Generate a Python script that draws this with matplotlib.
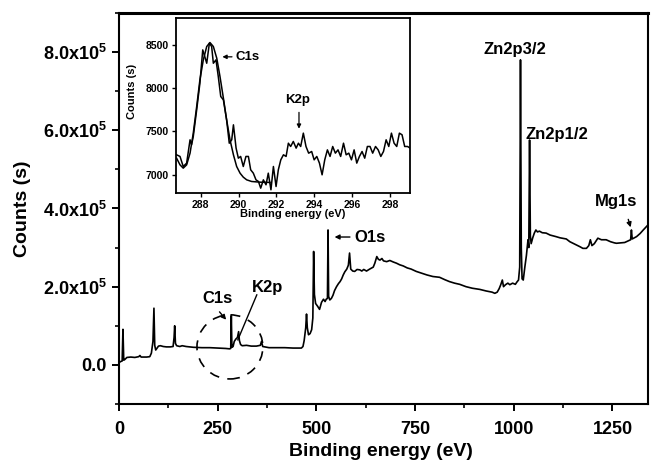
import matplotlib

matplotlib.use("Agg")
import matplotlib.pyplot as plt
from matplotlib.patches import Ellipse
from matplotlib.ticker import MultipleLocator, FixedLocator

# fonts: Arial-like bold everywhere
plt.rcParams["font.family"] = ["Liberation Sans", "DejaVu Sans"]
plt.rcParams["font.weight"] = "bold"
plt.rcParams["mathtext.fontset"] = "custom"
plt.rcParams["mathtext.rm"] = "Liberation Sans:bold"
plt.rcParams["mathtext.bf"] = "Liberation Sans:bold"

# survey spectrum, binding energy (eV) and counts (x1e5)
survey_energy = [
    0, 3, 8, 10, 12, 15, 20, 30, 40, 50, 53, 56, 70, 78, 82, 86, 88.5, 90.5, 93, 97,
    100, 105, 112, 120, 130, 137, 139.5, 141, 143, 146, 154, 160, 170, 188, 210, 230,
    250, 270, 280, 283, 284.5, 286, 289, 292, 296, 300, 303, 305, 308, 312, 323, 335,
    348, 358, 361, 364, 380, 400, 420, 441, 462, 466, 469, 473, 475, 477, 480, 484,
    488, 491, 493, 495, 498, 503, 508, 513, 518, 522, 525, 528, 529.5, 531, 534, 538,
    542, 546, 551, 556, 560, 564, 568, 572, 577, 581, 584, 587, 592, 597, 603, 610,
    615, 620, 627, 635, 644, 648, 653, 657, 661, 666, 670, 678, 686, 695, 703, 711,
    720, 730, 740, 753, 765, 780, 795, 812, 825, 837, 850, 863, 879, 895, 914, 930,
    945, 952, 958, 963, 967, 971, 974, 979, 985, 990, 997, 1004, 1008, 1012, 1015,
    1017, 1019, 1021, 1024, 1028, 1032, 1036, 1038, 1040, 1042, 1044, 1048, 1052,
    1056, 1060, 1065, 1072, 1082, 1092, 1100, 1107, 1117, 1133, 1142, 1150, 1160,
    1168, 1175, 1184, 1190, 1194, 1198, 1204, 1213, 1222, 1234, 1245, 1255, 1260,
    1270, 1281, 1292, 1296, 1298, 1300, 1311, 1320, 1328, 1340,
]
survey_counts = [
    0.05, 0.08, 0.10, 0.91, 0.12, 0.14, 0.19, 0.20, 0.19, 0.21, 0.24, 0.20, 0.20, 0.21,
    0.30, 0.60, 1.45, 0.50, 0.38, 0.44, 0.48, 0.49, 0.47, 0.46, 0.46, 0.47, 0.70, 1.00,
    0.55, 0.49, 0.47, 0.49, 0.47, 0.45, 0.44, 0.44, 0.43, 0.42, 0.41, 0.42, 1.26, 0.45,
    0.47, 0.60, 0.66, 0.70, 0.85, 0.62, 0.52, 0.49, 0.50, 0.48, 0.48, 0.50, 0.60, 0.47,
    0.44, 0.44, 0.44, 0.43, 0.43, 0.47, 0.62, 0.95, 1.30, 0.95, 0.77, 0.80, 0.90, 1.20,
    2.90, 1.80, 1.57, 1.50, 1.42, 1.60, 1.68, 1.62, 1.68, 1.70, 3.45, 1.75, 1.66, 1.70,
    1.78, 1.90, 2.00, 2.08, 2.13, 2.20, 2.30, 2.38, 2.45, 2.55, 2.86, 2.45, 2.40, 2.39,
    2.44, 2.43, 2.40, 2.44, 2.40, 2.45, 2.50, 2.60, 2.77, 2.70, 2.68, 2.72, 2.66, 2.64,
    2.67, 2.63, 2.60, 2.56, 2.53, 2.48, 2.45, 2.39, 2.35, 2.30, 2.26, 2.24, 2.18, 2.13,
    2.09, 2.06, 2.00, 1.96, 1.93, 1.89, 1.86, 1.83, 1.86, 1.95, 2.05, 2.17, 2.00, 2.05,
    2.09, 2.05, 2.09, 2.06, 2.12, 2.17, 2.50, 7.80, 3.00, 2.20, 2.17, 2.50, 2.80, 3.20,
    3.00, 5.75, 3.30, 3.10, 3.25, 3.37, 3.45, 3.40, 3.42, 3.38, 3.37, 3.32, 3.30, 3.28,
    3.25, 3.22, 3.15, 3.11, 3.06, 3.02, 2.98, 2.98, 3.05, 3.20, 3.05, 3.10, 3.24, 3.20,
    3.20, 3.15, 3.12, 3.11, 3.12, 3.13, 3.18, 3.20, 3.45, 3.22, 3.28, 3.36, 3.45, 3.58,
]

# high resolution C1s / K2p region (inset): raw counts
hr_energy = [
    286.73, 286.91, 287.08, 287.26, 287.44, 287.52, 287.61, 287.79, 287.96, 288.11,
    288.19, 288.32, 288.46, 288.58, 288.67, 288.81, 288.93, 289.06, 289.20, 289.37,
    289.51, 289.64, 289.73, 289.87, 289.99, 290.11, 290.25, 290.39, 290.52, 290.64,
    290.78, 290.92, 291.05, 291.17, 291.31, 291.45, 291.57, 291.71, 291.84, 291.98,
    292.10, 292.23, 292.37, 292.51, 292.63, 292.75, 292.89, 293.04, 293.16, 293.28,
    293.42, 293.56, 293.70, 293.86, 293.99, 294.13, 294.27, 294.41, 294.55, 294.69,
    294.83, 294.97, 295.11, 295.25, 295.39, 295.54, 295.68, 295.82, 295.96, 296.10,
    296.24, 296.38, 296.52, 296.66, 296.80, 296.94, 297.08, 297.23, 297.37, 297.51,
    297.65, 297.79, 297.93, 298.07, 298.21, 298.35, 298.49, 298.63, 298.77, 298.92,
    299.06,
]
hr_counts = [
    7231, 7212, 7096, 7135, 7404, 7346, 7442, 7750, 8058, 8442,
    8385, 8288, 8519, 8481, 8288, 8327, 8135, 7904, 7865, 7635,
    7365, 7404, 7577, 7308, 7192, 7212, 7096, 7212, 7212, 7058,
    7019, 6942, 6923, 6846, 6942, 6885, 7019, 6827, 7096, 6865,
    7058, 7173, 7231, 7212, 7365, 7327, 7385, 7308, 7365, 7327,
    7481, 7327, 7250, 7269, 7173, 7212, 7135, 7000, 7173, 7288,
    7212, 7327, 7250, 7288, 7212, 7365, 7231, 7250, 7173, 7288,
    7135, 7212, 7269, 7192, 7327, 7327, 7250, 7327, 7288, 7212,
    7269, 7404, 7327, 7481, 7365, 7327, 7481, 7462, 7327, 7327,
    7308,
]

# fitted C1s envelope (inset)
fit_energy = [
    286.73, 286.91, 287.08, 287.26, 287.44, 287.61, 287.79, 287.96, 288.14, 288.32,
    288.49, 288.67, 288.85, 289.02, 289.20, 289.37, 289.55, 289.73, 289.90, 290.08,
    290.25, 290.43, 290.69, 291.13, 291.66,
]
fit_counts = [
    7192, 7115, 7077, 7115, 7250, 7481, 7788, 8096, 8327, 8481,
    8527, 8481, 8346, 8135, 7885, 7635, 7404, 7231, 7096, 7019,
    6973, 6942, 6923, 6915, 6912,
]

fig = plt.figure(figsize=(6.51, 4.68), dpi=100)
ax = fig.add_axes([0.1828, 0.1368, 0.8126, 0.8355])

ax.plot(survey_energy, [c * 1e5 for c in survey_counts], color="black", lw=1.2)

ax.set_xlim(0, 1340)
ax.set_ylim(-1e5, 9e5)
ax.xaxis.set_major_locator(MultipleLocator(250))
ax.xaxis.set_minor_locator(MultipleLocator(125))
ax.yaxis.set_major_locator(FixedLocator([0, 2e5, 4e5, 6e5, 8e5]))
ax.yaxis.set_minor_locator(MultipleLocator(1e5))
ax.set_yticklabels(["0.0", "2.0x10$^5$", "4.0x10$^5$", "6.0x10$^5$", "8.0x10$^5$"])
ax.tick_params(which="major", direction="out", length=5, width=1.4, labelsize=13, pad=4)
ax.tick_params(axis="x", which="major", pad=7)
ax.tick_params(which="minor", direction="out", length=3, width=1.2)
for side in ["left", "bottom", "right"]:
    ax.spines[side].set_linewidth(1.5)
ax.spines["top"].set_linewidth(2.2)

ax.set_xlabel("Binding energy (eV)", fontsize=14, fontweight="bold")
ax.set_ylabel("Counts (s)", fontsize=14, fontweight="bold")
ax.xaxis.set_label_coords(0.496, -0.10)
ax.yaxis.set_label_coords(-0.166, 0.5)

# peak labels on the survey
arrow_kw = dict(arrowstyle="-|>", color="black", lw=1.0, mutation_scale=7)
ax.text(1002, 8.06e5, "Zn2p3/2", fontsize=12, ha="center", va="center")
ax.text(1108, 5.88e5, "Zn2p1/2", fontsize=12, ha="center", va="center")
ax.text(1260, 4.17e5, "Mg1s", fontsize=12, ha="center", va="center")
ax.annotate("", xy=(1298, 3.45e5), xytext=(1288, 3.79e5), arrowprops=arrow_kw)
ax.text(635, 3.25e5, "O1s", fontsize=12, ha="center", va="center")
ax.annotate("", xy=(539, 3.27e5), xytext=(592, 3.27e5), arrowprops=arrow_kw)
ax.text(250, 1.71e5, "C1s", fontsize=12, ha="center", va="center")
ax.annotate("", xy=(276, 1.10e5), xytext=(250, 1.41e5), arrowprops=arrow_kw)
ax.text(377, 1.97e5, "K2p", fontsize=12, ha="center", va="center")
ax.plot([349, 301], [1.79e5, 0.64e5], color="black", lw=1.0)

# dashed circle around the C1s / K2p region
ax.add_patch(
    Ellipse((281, 0.46e5), 167, 1.64e5, fill=False, ec="black", lw=1.2,
            linestyle=(0, (6, 5)))
)

# inset: high resolution scan
axin = fig.add_axes([0.2704, 0.5876, 0.3594, 0.3739])
axin.plot(hr_energy, hr_counts, color="black", lw=1.1)
axin.plot(fit_energy, fit_counts, color="black", lw=1.1)
axin.set_xlim(286.7, 299.05)
axin.set_ylim(6790, 8810)
axin.xaxis.set_major_locator(MultipleLocator(2))
axin.yaxis.set_major_locator(MultipleLocator(500))
axin.tick_params(which="major", direction="out", length=3, width=1.0, labelsize=7.5, pad=2)
for side in axin.spines:
    axin.spines[side].set_linewidth(1.3)
axin.set_xlabel("Binding energy (eV)", fontsize=8, fontweight="bold")
axin.set_ylabel("Counts (s)", fontsize=8, fontweight="bold")
axin.xaxis.set_label_coords(0.5, -0.09)
axin.yaxis.set_label_coords(-0.165, 0.58)

arrow_in = dict(arrowstyle="-|>", color="black", lw=0.9, mutation_scale=6)
axin.text(290.5, 8362, "C1s", fontsize=9.5, ha="center", va="center")
axin.annotate("", xy=(289.0, 8362), xytext=(289.8, 8362), arrowprops=arrow_in)
axin.text(293.13, 7868, "K2p", fontsize=9.5, ha="center", va="center")
axin.annotate("", xy=(293.19, 7500), xytext=(293.19, 7753), arrowprops=arrow_in)

fig.savefig("out.png", dpi=100)
